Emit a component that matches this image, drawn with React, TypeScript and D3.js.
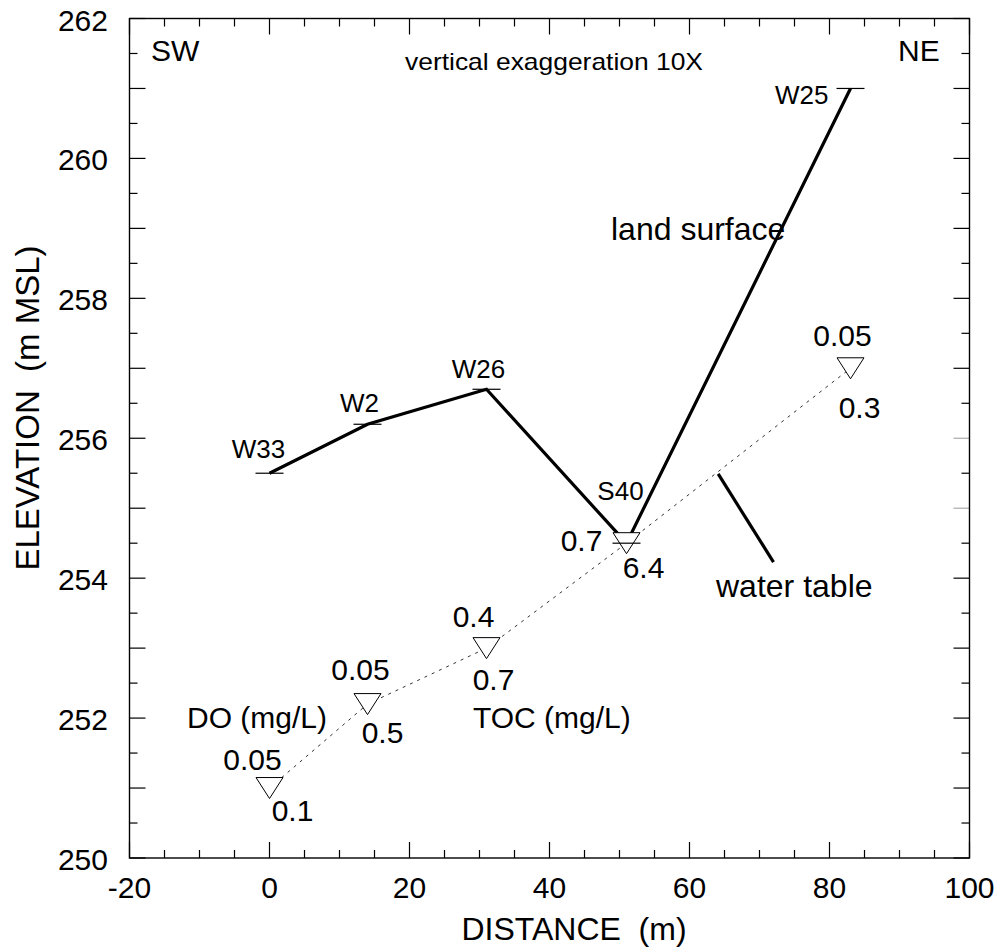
import React from "react";
import * as d3 from "d3";

// Cross-section sites along the transect (SW -> NE)
const wellNames = ["W33", "W2", "W26", "S40", "W25"];
const wellDistance = [0, 14, 31, 51, 83];
const landSurfaceElevation = [255.5, 256.2, 256.7, 254.5, 261];
const waterTableElevation = [251, 252.2, 253, 254.5, 257];
const dissolvedOxygen = ["0.05", "0.05", "0.4", "0.7", "0.05"];
const totalOrganicCarbon = ["0.1", "0.5", "0.7", "6.4", "0.3"];

const xTickValues = [-20, 0, 20, 40, 60, 80, 100];
const yTickValues = [250, 252, 254, 256, 258, 260, 262];

// Pointer from the "water table" label to the dotted line (data units)
const waterTablePointer = [
  [64.1, 255.49],
  [72.0, 254.23],
];

// Pixel offsets of labels relative to their point
const wellLabelOffset = [
  [-11, -15, "middle"],
  [-8, -12, "middle"],
  [-8, -11, "middle"],
  [-6, -43, "middle"],
  [-22, 16, "end"],
];
const doLabelOffset = [
  [-17, -18],
  [-7, -24],
  [-13, -21],
  [-45, 8],
  [-8, -22],
];
const tocLabelOffset = [
  [23, 33],
  [15, 39],
  [7, 42],
  [17, 35],
  [9, 50],
];

const FONT = "'Liberation Sans', Arial, Helvetica, sans-serif";

const W = 1005;
const H = 950;
const left = 129.5;
const right = 969.5;
const top = 18.5;
const bottom = 858;

export default function App() {
  const x = d3.scaleLinear().domain([-20, 100]).range([left, right]);
  const y = d3.scaleLinear().domain([250, 262]).range([bottom, top]);

  const xTicks = d3.range(-20, 100.001, 5);
  const yTicks = d3.range(250, 262.001, 0.5);

  const line = d3
    .line<number>()
    .x((_, i) => x(wellDistance[i]))
    .y((d) => y(d));

  const landPath = line(landSurfaceElevation) || "";
  const waterPath = line(waterTableElevation) || "";

  const triW = 13.5;
  const triH = 10.5;

  return (
    <svg
      width={W}
      height={H}
      style={{ position: "absolute", left: 0, top: 0, background: "#fff" }}
      fontFamily={FONT}
    >
      <rect x={0} y={0} width={W} height={H} fill="#fff" />

      {/* ticks on all four sides, pointing inward */}
      <g stroke="#000" strokeWidth={1.2}>
        {xTicks.map((t) => {
          const len = t % 20 === 0 ? 16 : 8;
          return (
            <g key={"xt" + t}>
              <line x1={x(t)} x2={x(t)} y1={bottom} y2={bottom - len} />
              <line x1={x(t)} x2={x(t)} y1={top} y2={top + len} />
            </g>
          );
        })}
        {yTicks.map((t) => {
          const len = Number.isInteger(t) ? 16 : 8;
          const grey = t === 256 || t === 255;
          return (
            <g key={"yt" + t}>
              <line x1={left} x2={left + len} y1={y(t)} y2={y(t)} />
              <line
                x1={right}
                x2={right - len}
                y1={y(t)}
                y2={y(t)}
                stroke={grey ? "#aaa" : "#000"}
              />
            </g>
          );
        })}
      </g>

      {/* frame */}
      <rect
        x={left}
        y={top}
        width={right - left}
        height={bottom - top}
        fill="none"
        stroke="#000"
        strokeWidth={1.4}
      />

      {/* tick labels */}
      <g fontSize={30} fill="#000">
        {xTickValues.map((t) => (
          <text key={"xl" + t} x={x(t)} y={898} textAnchor="middle">
            {t}
          </text>
        ))}
        {yTickValues.map((t) => (
          <text key={"yl" + t} x={108} y={y(t) + 12} textAnchor="end">
            {t}
          </text>
        ))}
      </g>

      {/* axis titles */}
      <text x={574} y={940} fontSize={32} textAnchor="middle" xmlSpace="preserve">
        {"DISTANCE  (m)"}
      </text>
      <text
        transform={`translate(39, 408) rotate(-90)`}
        fontSize={33}
        textAnchor="middle"
        xmlSpace="preserve"
      >
        {"ELEVATION  (m MSL)"}
      </text>

      {/* orientation and annotations */}
      <text x={151} y={61} fontSize={30}>
        SW
      </text>
      <text x={898} y={61} fontSize={30}>
        NE
      </text>
      <text x={405} y={70} fontSize={24} textLength={298} lengthAdjust="spacingAndGlyphs">
        vertical exaggeration 10X
      </text>
      <text x={611} y={240} fontSize={32}>
        land surface
      </text>
      <text x={716} y={597} fontSize={32}>
        water table
      </text>
      <text x={187} y={728} fontSize={30}>
        DO (mg/L)
      </text>
      <text x={473} y={728} fontSize={30}>
        TOC (mg/L)
      </text>

      {/* water table (dotted) */}
      <path
        d={waterPath}
        fill="none"
        stroke="#333"
        strokeWidth={1}
        strokeDasharray="3,5"
      />

      {/* land surface */}
      <path
        d={landPath}
        fill="none"
        stroke="#000"
        strokeWidth={3.2}
        strokeLinejoin="miter"
      />

      {/* pointer to the water table */}
      <line
        x1={x(waterTablePointer[0][0])}
        y1={y(waterTablePointer[0][1])}
        x2={x(waterTablePointer[1][0])}
        y2={y(waterTablePointer[1][1])}
        stroke="#000"
        strokeWidth={3.2}
      />

      {/* water-level symbols */}
      {waterTableElevation.map((e, i) => {
        const cx = x(wellDistance[i]);
        const cy = y(e);
        return (
          <path
            key={"tri" + i}
            d={`M${cx - triW},${cy - triH}L${cx + triW},${cy - triH}L${cx},${cy + triH}Z`}
            fill="#fff"
            stroke="#000"
            strokeWidth={1}
          />
        );
      })}

      {/* well-head markers and names */}
      {landSurfaceElevation.map((e, i) => {
        const cx = x(wellDistance[i]);
        const cy = y(e);
        const [dx, dy, anchor] = wellLabelOffset[i];
        return (
          <g key={"well" + i}>
            <line x1={cx - 14} x2={cx + 14} y1={cy} y2={cy} stroke="#000" strokeWidth={1.2} />
            <text
              x={cx + (dx as number)}
              y={cy + (dy as number)}
              fontSize={26}
              textAnchor={anchor as string}
            >
              {wellNames[i]}
            </text>
          </g>
        );
      })}

      {/* DO above, TOC below each water-level symbol */}
      {waterTableElevation.map((e, i) => {
        const cx = x(wellDistance[i]);
        const cy = y(e);
        return (
          <g key={"chem" + i} fontSize={30}>
            <text x={cx + doLabelOffset[i][0]} y={cy + doLabelOffset[i][1]} textAnchor="middle">
              {dissolvedOxygen[i]}
            </text>
            <text x={cx + tocLabelOffset[i][0]} y={cy + tocLabelOffset[i][1]} textAnchor="middle">
              {totalOrganicCarbon[i]}
            </text>
          </g>
        );
      })}
    </svg>
  );
}
